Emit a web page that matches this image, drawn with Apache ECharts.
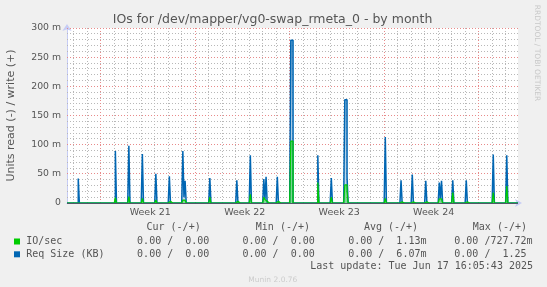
<!DOCTYPE html>
<html><head><meta charset="utf-8">
<script src="https://cdn.jsdelivr.net/npm/echarts@6/dist/echarts.min.js"></script>
<style>html,body{margin:0;padding:0;background:#f0f0f0;}#c{width:547px;height:287px;}</style>
</head><body><div id="c"></div>
<script>
// 2-hour samples (Munin month RRA); slot 0 = left edge of the plot
const slotCount = 401;
const spikeSlots = [10, 43, 55, 67, 79, 91, 103, 104, 105, 127, 151, 163, 175, 176, 177, 187, 199, 200, 223, 235, 247, 248, 249, 283, 297, 307, 319, 331, 332, 333, 343, 355, 379, 391];
// values in milli-units ("m")
const reqSizeKB = [42, 89, 98, 84, 50, 46, 89, 10, 38, 43, 39, 82, 41, 6, 45, 45, 279, 279, 82, 43, 177, 177, 44, 113, 39, 49, 38, 35, 8, 38, 39, 39, 83, 82];
const ioPerSec  = [3, 9, 11, 8, 5, 3, 5, 5, 5, 10, 3, 15, 10, 6, 3, 3, 106, 106, 35, 10, 31, 31, 20, 8, 2, 2, 2, 7, 7, 7, 18, 2, 18, 29];
const weekStartSlots = [30, 114, 198, 282, 366];
const weekLabelSlots = [74, 158, 242, 326];
const weekLabels = ['Week 21', 'Week 22', 'Week 23', 'Week 24'];
const yMajorTicks = [50, 100, 150, 200, 250, 300];
const legendHeader = ['Cur (-/+)', 'Min (-/+)', 'Avg (-/+)', 'Max (-/+)'];
const ioRow = ['0.00 /  0.00', '0.00 /  0.00', '0.00 /  1.13m', '0.00 /727.72m'];
const reqRow = ['0.00 /  0.00', '0.00 /  0.00', '0.00 /  6.07m', '0.00 /  1.25'];

const reqMap = {}, ioMap = {};
spikeSlots.forEach((s, i) => { reqMap[s] = reqSizeKB[i]; ioMap[s] = ioPerSec[i]; });
const reqData = [], ioData = [];
for (let s = 0; s <= slotCount; s++) {
  reqData.push([s, reqMap[s] || 0]);
  ioData.push([s, ioMap[s] || 0]);
}
const dayLineSlots = [];
for (let s = 6; s < slotCount; s += 12) if (weekStartSlots.indexOf(s) < 0) dayLineSlots.push(s);
const yMinorTicks = [];
for (let v = 10; v < 300; v += 10) if (v % 50 !== 0) yMinorTicks.push(v);

const FONT = 'DejaVu Sans', MONO = 'DejaVu Sans Mono', TXT = '#555555';
const MINOR = '#b8b8b8', MAJOR = '#e88a8a';
const colX = [146.5, 255.8, 363.9, 472.8];
const valX = [137.1, 242.5, 348.2, 454.3];
const graphics = [
  { type: 'text', x: 272.5, y: 19.5, style: { text: 'IOs for /dev/mapper/vg0-swap_rmeta_0 - by month', font: '12.5px ' + FONT, fill: TXT, textAlign: 'center', textVerticalAlign: 'middle' } },
  { type: 'text', x: 536.5, y: 53, rotation: -Math.PI / 2, style: { text: 'RRDTOOL / TOBI OETIKER', font: '7.5px ' + FONT, fill: '#c8c8c8', textAlign: 'center', textVerticalAlign: 'middle' } },
  { type: 'rect', shape: { x: 14, y: 238.5, width: 6, height: 6 }, style: { fill: '#00cc00' } },
  { type: 'rect', shape: { x: 14, y: 251.3, width: 6, height: 6 }, style: { fill: '#0066b3' } },
  { type: 'text', x: 26.2, y: 241, style: { text: 'IO/sec', font: '10px ' + MONO, fill: TXT, textVerticalAlign: 'middle' } },
  { type: 'text', x: 26.2, y: 254, style: { text: 'Req Size (KB)', font: '10px ' + MONO, fill: TXT, textVerticalAlign: 'middle' } },
  { type: 'text', x: 533, y: 266, style: { text: 'Last update: Tue Jun 17 16:05:43 2025', font: '10px ' + MONO, fill: TXT, textAlign: 'right', textVerticalAlign: 'middle' } },
  { type: 'text', x: 272.8, y: 280, style: { text: 'Munin 2.0.76', font: '7.5px ' + FONT, fill: '#cccccc', textAlign: 'center', textVerticalAlign: 'middle' } }
];
legendHeader.forEach((t, i) => graphics.push({ type: 'text', x: colX[i], y: 227.7, style: { text: t, font: '10px ' + MONO, fill: TXT, textVerticalAlign: 'middle' } }));
ioRow.forEach((t, i) => graphics.push({ type: 'text', x: valX[i], y: 241, style: { text: t, font: '10px ' + MONO, fill: TXT, textVerticalAlign: 'middle' } }));
reqRow.forEach((t, i) => graphics.push({ type: 'text', x: valX[i], y: 254, style: { text: t, font: '10px ' + MONO, fill: TXT, textVerticalAlign: 'middle' } }));

function vLines(color) {
  return (params, api) => {
    const p0 = api.coord([api.value(0), 0]);
    const p1 = api.coord([api.value(0), 300]);
    const x = Math.floor(p0[0]) + 0.5;
    return { type: 'line', silent: true, shape: { x1: x, y1: p0[1], x2: x, y2: p1[1] },
      style: { stroke: color, lineWidth: 1, lineDash: [1, 2] } };
  };
}
function hLines(color) {
  return (params, api) => {
    const p0 = api.coord([0, api.value(1)]);
    const p1 = api.coord([slotCount, api.value(1)]);
    const y = Math.floor(p0[1]) + 0.5;
    return { type: 'line', silent: true, shape: { x1: p0[0], y1: y, x2: p1[0], y2: y },
      style: { stroke: color, lineWidth: 1, lineDash: [1, 2] } };
  };
}

const AXIS = '#c6ccf5';
const chart = echarts.init(document.getElementById('c'), null, { renderer: 'canvas' });
chart.setOption({
  animation: false,
  backgroundColor: '#f0f0f0',
  grid: { left: 67, right: 29, top: 28, bottom: 84, show: true, backgroundColor: '#ffffff', borderWidth: 0,
    containLabel: false, outerBoundsMode: 'none' },
  xAxis: {
    type: 'value', min: 0, max: slotCount, interval: 2,
    axisLine: { show: true, lineStyle: { color: AXIS }, symbol: ['none', 'arrow'], symbolSize: [6, 7], symbolOffset: [0, 4] },
    axisTick: { show: false }, splitLine: { show: false },
    axisLabel: { margin: 5, fontSize: 9.5, color: TXT, fontFamily: FONT, showMinLabel: true, showMaxLabel: true,
      formatter: v => { const i = weekLabelSlots.indexOf(v); return i >= 0 ? weekLabels[i] : ''; } }
  },
  yAxis: {
    type: 'value', min: 0, max: 300, interval: 50,
    name: 'Units read (-) / write (+)', nameLocation: 'middle', nameGap: 50,
    nameTextStyle: { fontSize: 11, color: TXT, fontFamily: FONT },
    axisLine: { show: true, lineStyle: { color: AXIS }, symbol: ['none', 'arrow'], symbolSize: [7, 7], symbolOffset: [0, 4] },
    axisTick: { show: false },
    axisLabel: { margin: 6, fontSize: 9.3, color: TXT, fontFamily: FONT, formatter: v => v === 0 ? '0' : v + ' m' },
    splitLine: { show: false }
  },
  graphic: graphics,
  series: [
    { type: 'custom', z: 1, silent: true, clip: false, data: yMinorTicks.map(v => [0, v]), renderItem: hLines(MINOR) },
    { type: 'custom', z: 1, silent: true, clip: false, data: dayLineSlots.map(s => [s, 0]), renderItem: vLines(MINOR) },
    { type: 'custom', z: 1, silent: true, clip: false, data: yMajorTicks.map(v => [0, v]), renderItem: hLines(MAJOR) },
    { type: 'custom', z: 1, silent: true, clip: false, data: weekStartSlots.map(s => [s, 0]), renderItem: vLines(MAJOR) },
    { name: 'Req Size (KB)', type: 'line', step: 'end', data: reqData, showSymbol: false, z: 3,
      lineStyle: { color: '#0066b3', width: 1.5 }, itemStyle: { color: '#0066b3' },
      areaStyle: { color: new echarts.graphic.LinearGradient(0, 0, 0, 1, [{ offset: 0, color: 'rgba(0,102,179,0.7)' }, { offset: 1, color: 'rgba(0,102,179,0.3)' }]) } },
    { name: 'IO/sec', type: 'line', step: 'end', data: ioData, showSymbol: false, z: 4,
      lineStyle: { color: '#00cc00', width: 1.2 }, itemStyle: { color: '#00cc00' },
      areaStyle: { color: 'rgba(0,204,0,0.55)' } },
    { type: 'line', data: [[0, 0]], showSymbol: false, silent: true, lineStyle: { opacity: 0 }, z: 10,
      markLine: { silent: true, symbol: 'none', label: { show: false }, animation: false, z: 10,
        lineStyle: { color: '#4f5868', type: 'solid', width: 1 }, data: [{ yAxis: 0 }] } }
  ]
});
</script></body></html>
